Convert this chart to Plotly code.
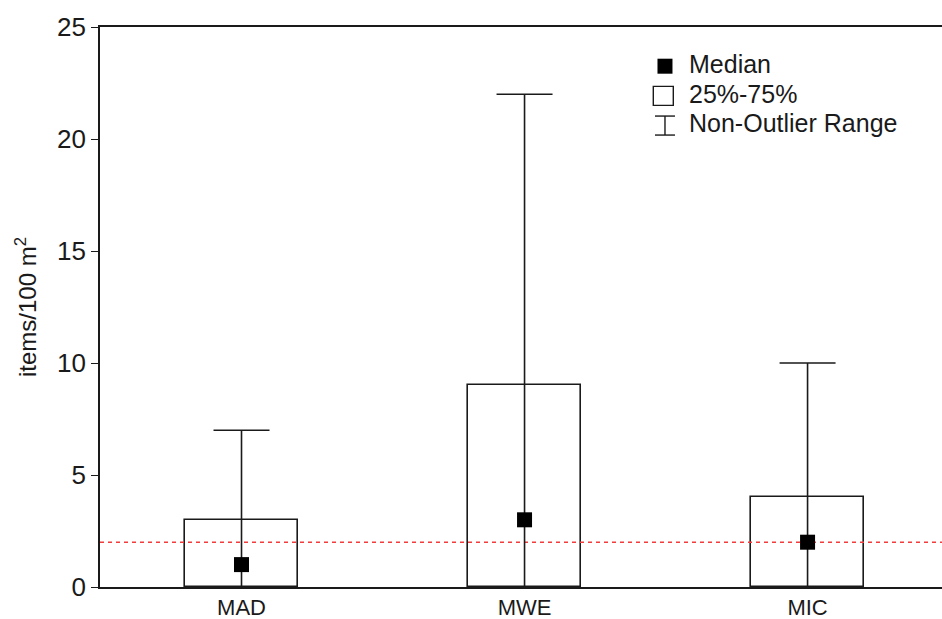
import plotly.graph_objects as go

categories = ["MAD", "MWE", "MIC"]
q1 = [0, 0, 0]
q3 = [3, 9, 4]
medians = [1, 3, 2]
whisker_low = [0, 0, 0]
whisker_high = [7, 22, 10]
threshold = 2
y_ticks = [0, 5, 10, 15, 20, 25]

xpos = list(range(len(categories)))
FONT = "Liberation Sans, Arial, sans-serif"
INK = "#1a1a1a"

fig = go.Figure()

# 25%-75% boxes
fig.add_trace(go.Bar(
    x=xpos, y=[b - a for a, b in zip(q1, q3)], base=q1, width=0.4,
    marker=dict(color="white", line=dict(color=INK, width=1.6)),
    showlegend=False, hoverinfo="skip"))

# threshold line
fig.add_trace(go.Scatter(
    x=[-0.5, 2.5], y=[threshold, threshold], mode="lines",
    line=dict(color="#f03c3c", width=1.4, dash="4px,4px"),
    showlegend=False, hoverinfo="skip"))

# median + whiskers
fig.add_trace(go.Scatter(
    x=xpos, y=medians, mode="markers",
    marker=dict(symbol="square", size=15, color="black"),
    error_y=dict(type="data", symmetric=False,
                 array=[h - m for h, m in zip(whisker_high, medians)],
                 arrayminus=[m - l for m, l in zip(medians, whisker_low)],
                 color=INK, thickness=1.6, width=28),
    showlegend=False))

shapes = []
annotations = []
# legend glyphs
shapes.append(dict(type="rect", xref="paper", yref="paper", xsizemode="pixel", ysizemode="pixel",
                   xanchor=0.671, yanchor=0.930, x0=-7.5, x1=7.5, y0=-7.5, y1=7.5,
                   fillcolor="black", line=dict(width=0)))
shapes.append(dict(type="rect", xref="paper", yref="paper", xsizemode="pixel", ysizemode="pixel",
                   xanchor=0.669, yanchor=0.877, x0=-10, x1=10, y0=-9.5, y1=9.5,
                   fillcolor="white", line=dict(color=INK, width=1.4)))
for (x0, x1, y0, y1) in [(0, 0, -9.5, 9.5), (-10, 10, 9.5, 9.5), (-10, 10, -9.5, -9.5)]:
    shapes.append(dict(type="line", xref="paper", yref="paper", xsizemode="pixel", ysizemode="pixel",
                       xanchor=0.671, yanchor=0.824, x0=x0, x1=x1, y0=y0, y1=y1,
                       line=dict(color=INK, width=1.4)))
for txt, yp in [("Median", 0.934), ("25%-75%", 0.880), ("Non-Outlier Range", 0.829)]:
    annotations.append(dict(text=txt, xref="paper", yref="paper", x=0.697, y=yp,
                            xanchor="left", yanchor="middle", showarrow=False,
                            font=dict(family=FONT, size=25, color=INK)))

fig.update_layout(
    width=942, height=619,
    margin=dict(l=100, r=0, t=27, b=32),
    paper_bgcolor="white", plot_bgcolor="white",
    shapes=shapes, annotations=annotations,
    xaxis=dict(range=[-0.5, 2.475], tickvals=xpos, ticktext=categories,
               showline=True, linecolor=INK, linewidth=1.6, mirror=True,
               showgrid=False, zeroline=False, ticks="", automargin=False,
               tickfont=dict(family=FONT, size=22, color=INK)),
    yaxis=dict(range=[0, 25], tickvals=y_ticks, automargin=False,
               showline=True, linecolor=INK, linewidth=1.6,
               showgrid=False, zeroline=False, ticks="outside", ticklen=7,
               tickcolor=INK, tickwidth=1.4,
               tickfont=dict(family=FONT, size=26, color=INK),
               title=dict(text="items/100 m<sup>2</sup>", standoff=14,
                          font=dict(family=FONT, size=24, color=INK))),
    bargap=0,
)

fig.write_html("out.html")
